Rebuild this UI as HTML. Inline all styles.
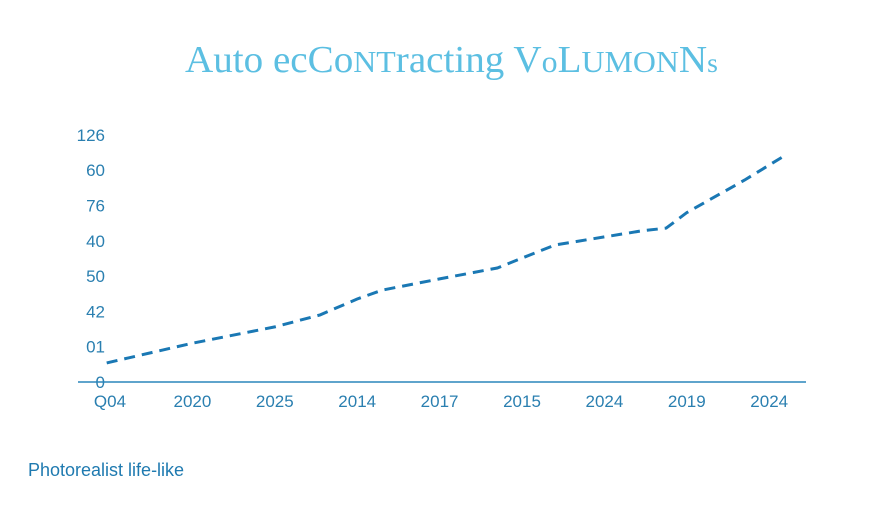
<!DOCTYPE html>
<html><head><meta charset="utf-8"><style>
body{margin:0;background:#fff;width:896px;height:512px;overflow:hidden}
svg{display:block}
</style></head><body>
<svg width="896" height="512">
<text x="185" y="72" textLength="533" lengthAdjust="spacingAndGlyphs" font-family="Liberation Serif, serif" font-size="38" fill="#5cbfe2">Auto ecCo<tspan font-size="31">NT</tspan>racting V<tspan font-size="31">o</tspan>L<tspan font-size="31">UMON</tspan>N<tspan font-size="27">s</tspan></text>
<g id="yaxis"></g>
<g id="xaxis"></g>
<line x1="78" y1="382" x2="806" y2="382" stroke="#2a86bb" stroke-width="1.5"/>
<path id="line" fill="none" stroke="#1a78b4" stroke-width="3" stroke-dasharray="11,7"/>
<text x="28" y="476" font-family="Liberation Sans, sans-serif" font-size="18" fill="#1f7ab0">Photorealist life-like</text>
</svg>
<script>
const categories=["Q04","2020","2025","2014","2017","2015","2024","2019","2024"];
const yTickLabels=["0","01","42","50","40","76","60","126"];
const pointIndex=[-0.04,1,2,2.55,3,3.3,4,4.7,5,5.4,6,6.45,6.75,7,7.7,8.2];
const pointValues=[0.54,1.1,1.56,1.9,2.35,2.6,2.92,3.23,3.51,3.88,4.11,4.28,4.36,4.8,5.72,6.43];
const NS="http://www.w3.org/2000/svg";
function xs(i){return 110+i*82.4;}
function ys(v){return 382-v*35.3;}
const ya=document.getElementById('yaxis');
yTickLabels.forEach((t,i)=>{
 const el=document.createElementNS(NS,'text');
 el.setAttribute('x',105);el.setAttribute('y',ys(i)+6);
 el.setAttribute('text-anchor','end');
 el.setAttribute('font-family','Liberation Sans, sans-serif');
 el.setAttribute('font-size','17');el.setAttribute('fill','#2a7fb0');
 el.textContent=t;
 
 
 ya.appendChild(el);
});
const xa=document.getElementById('xaxis');
categories.forEach((t,i)=>{
 const el=document.createElementNS(NS,'text');
 el.setAttribute('x',xs(i));el.setAttribute('y',407);
 el.setAttribute('text-anchor','middle');
 el.setAttribute('font-family','Liberation Sans, sans-serif');
 el.setAttribute('font-size','17');el.setAttribute('fill','#2a7fb0');
 el.textContent=t;
 
 
 xa.appendChild(el);
});
let d="";
pointIndex.forEach((p,i)=>{d+=(i?"L":"M")+xs(p).toFixed(1)+","+ys(pointValues[i]).toFixed(1);});
document.getElementById('line').setAttribute('d',d);
</script>
</body></html>
